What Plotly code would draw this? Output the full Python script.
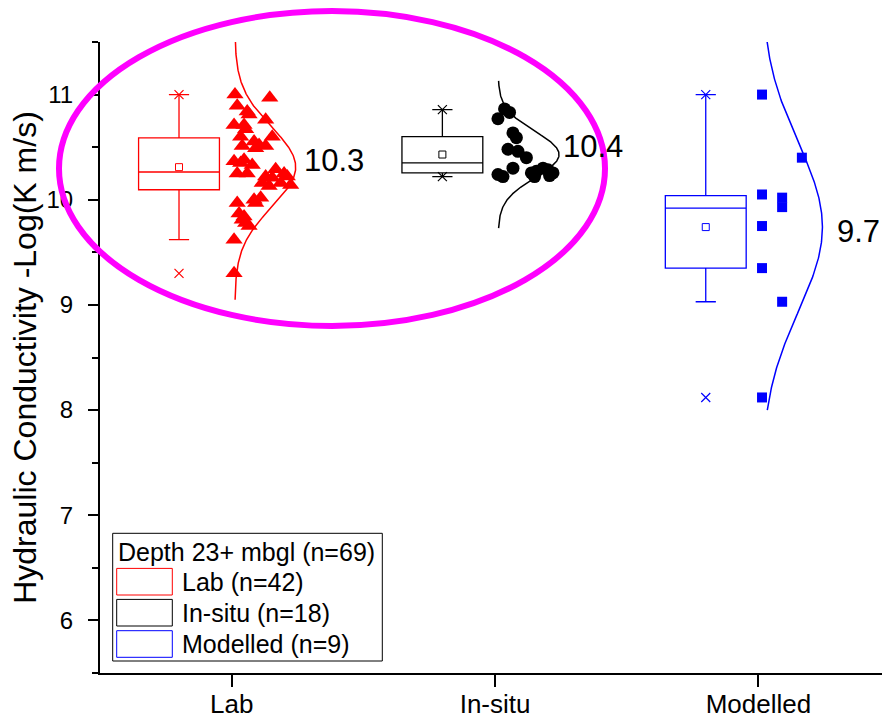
import numpy as np
import plotly.graph_objects as go

# ---------------- data ----------------
categories = ["Lab", "In-situ", "Modelled"]
cat_pos = [1, 2, 3]
colors = ["#FF0000", "#000000", "#0000FF"]
legend_labels = ["Lab (n=42)", "In-situ (n=18)", "Modelled (n=9)"]
legend_title = "Depth 23+ mbgl (n=69)"
mean_labels = ["10.3", "10.4", "9.7"]

lab_values = [11.0, 10.97, 10.895, 10.84, 10.76, 10.71, 10.71, 10.60, 10.60, 10.555,
              10.52, 10.51, 10.51, 10.365, 10.38, 10.33, 10.25, 10.25, 10.16, 10.29,
              10.25, 10.14, 10.13, 10.16, 10.22, 9.97, 10.0, 10.02, 9.87, 9.81,
              9.75, 9.62, 9.30, 10.21, 10.22, 10.49, 10.67, 10.81, 9.97, 9.84,
              9.78, 10.35]
lab_jitter = [0.0125, 0.1445, 0.021, 0.059, 0.129, 0.009, 0.047, 0.154, 0.034, 0.085,
              0.104, 0.129, 0.040, 0.009, 0.047, 0.078, 0.021, 0.059, 0.116, 0.167,
              0.199, 0.224, 0.142, 0.186, 0.211, 0.021, 0.085, 0.110, 0.028, 0.040,
              0.066, 0.009, 0.009, 0.154, 0.129, 0.091, 0.053, 0.066, 0.091, 0.047,
              0.053, 0.034]

insitu_values = [10.864, 10.83, 10.77, 10.635, 10.59, 10.48, 10.46, 10.40, 10.30,
                 10.24, 10.22, 10.255, 10.27, 10.30, 10.285, 10.255, 10.22, 10.23]
insitu_jitter = [0.036, 0.055, 0.011, 0.068, 0.081, 0.049, 0.087, 0.119, 0.068,
                 0.011, 0.030, 0.138, 0.157, 0.182, 0.201, 0.220, 0.150, 0.207]

model_values = [11.0, 10.05, 9.75, 9.35, 8.12, 10.02, 9.93, 9.03, 10.40]
model_jitter = [0.0137, 0.0137, 0.0137, 0.0137, 0.0137, 0.09, 0.09, 0.09, 0.165]

# box statistics
box_q1 = [10.095, 10.255, 9.35]
box_median = [10.264, 10.35, 9.92]
box_q3 = [10.588, 10.60, 10.04]
box_lower = [9.62, 10.22, 9.03]
box_upper = [11.0, 10.857, 11.0]
box_mean = [10.31, 10.43, 9.74]
box_min = [9.30, 10.22, 8.12]
box_max = [11.0, 10.857, 11.0]

# normal-curve parameters
curve_sd = [0.38, 0.22, 0.80]
curve_lo = [9.05, 9.73, 8.0]
curve_hi = [11.6, 11.13, 11.6]

# ---------------- layout constants ----------------
W, H = 882, 723
ML, MR, MT, MB = 100, 0, 42, 50
PW, PH = W - ML - MR, H - MT - MB
FONT = "Liberation Sans, Arial, sans-serif"

def px(xp):
    return (xp - ML) / PW

def py(yp):
    return (H - MB - yp) / PH

box_offset = -0.2
box_width = 0.307
curve_base = 0.012
curve_peak = 0.243
label_offsets = [0.2665, 0.2517, 0.2905]
label_shift = [7, 8, -4]

fig = go.Figure()

value_sets = [lab_values, insitu_values, model_values]
jitter_sets = [lab_jitter, insitu_jitter, model_jitter]
symbols = ["triangle-up", "circle", "square"]
msizes = [15, 13, 10]

for i in range(3):
    c = colors[i]
    xc = cat_pos[i] + box_offset
    fig.add_trace(go.Box(
        x=[xc], q1=[box_q1[i]], median=[box_median[i]], q3=[box_q3[i]],
        lowerfence=[box_lower[i]], upperfence=[box_upper[i]],
        width=box_width, whiskerwidth=0.25, boxpoints=False,
        fillcolor="rgba(0,0,0,0)", line=dict(color=c, width=1.3),
        showlegend=False, hoverinfo="skip"))
    # mean square
    fig.add_trace(go.Scatter(
        x=[xc], y=[box_mean[i]], mode="markers",
        marker=dict(symbol="square-open", size=7, color=c, line=dict(width=1)),
        showlegend=False, hoverinfo="skip"))
    # min / max crosses
    fig.add_trace(go.Scatter(
        x=[xc, xc], y=[box_min[i], box_max[i]], mode="markers",
        marker=dict(symbol="x-thin-open", size=9, color=c, line=dict(width=1.2, color=c)),
        showlegend=False, hoverinfo="skip", cliponaxis=False))
    # data points
    vals = value_sets[i]
    xs = [cat_pos[i] + j for j in jitter_sets[i]]
    fig.add_trace(go.Scatter(
        x=xs, y=vals, mode="markers",
        marker=dict(symbol=symbols[i], size=msizes[i], color=c, line=dict(width=0)),
        showlegend=False, hoverinfo="skip"))
    # normal curve
    mu = box_mean[i]
    yy = np.linspace(curve_lo[i], curve_hi[i], 300)
    amp = curve_peak - curve_base
    xx = cat_pos[i] + curve_base + amp * np.exp(-(yy - mu) ** 2 / (2 * curve_sd[i] ** 2))
    fig.add_trace(go.Scatter(
        x=xx, y=yy, mode="lines", line=dict(color=c, width=1.5),
        showlegend=False, hoverinfo="skip"))

annotations = []
for i in range(3):
    annotations.append(dict(
        x=cat_pos[i] + label_offsets[i], y=box_mean[i], xref="x", yref="y",
        text=mean_labels[i], showarrow=False, xanchor="left", yanchor="middle",
        yshift=label_shift[i], font=dict(family=FONT, size=31, color="black")))

# manual legend
shapes = []
shapes.append(dict(type="rect", xref="paper", yref="paper",
                   x0=px(112.7), x1=px(382.3), y0=py(661), y1=py(533.3),
                   line=dict(color="black", width=1), fillcolor="white", layer="above"))
annotations.append(dict(x=px(116), y=py(551.5), xref="paper", yref="paper",
                        text=legend_title, showarrow=False, xanchor="left", yanchor="middle",
                        font=dict(family=FONT, size=25, color="black")))
row_centers = [581.7, 612.7, 644.0]
for i in range(3):
    shapes.append(dict(type="rect", xref="paper", yref="paper",
                       x0=px(116.7), x1=px(172.3),
                       y0=py(row_centers[i] + 13.3), y1=py(row_centers[i] - 13.3),
                       line=dict(color=colors[i], width=1), layer="above"))
    annotations.append(dict(x=px(180), y=py(row_centers[i]), xref="paper", yref="paper",
                            text=legend_labels[i], showarrow=False, xanchor="left",
                            yanchor="middle",
                            font=dict(family=FONT, size=25, color="black")))

# magenta ellipse
shapes.append(dict(type="circle", xref="paper", yref="paper",
                   x0=px(59), x1=px(605), y0=py(326), y1=py(11),
                   line=dict(color="#FF00FF", width=6), layer="above"))

fig.update_layout(
    width=W, height=H,
    margin=dict(l=ML, r=MR, t=MT, b=MB, autoexpand=False),
    plot_bgcolor="white", paper_bgcolor="white",
    font=dict(family=FONT, color="black"),
    shapes=shapes, annotations=annotations, showlegend=False,
    xaxis=dict(range=[0.5, 3 + (882 - 758.6) / 263], tickvals=cat_pos, ticktext=categories,
               showgrid=False, zeroline=False, showline=True, linecolor="black", linewidth=2,
               ticks="outside", ticklen=12, tickwidth=2, tickcolor="black",
               ticklabelstandoff=-5,
               tickfont=dict(family=FONT, size=26, color="black")),
    yaxis=dict(range=[5.5, 11.5], tickvals=[6, 7, 8, 9, 10, 11],
               showgrid=False, zeroline=False, showline=True, linecolor="black", linewidth=2,
               ticks="outside", ticklen=10, tickwidth=2, tickcolor="black",
               ticklabelstandoff=10,
               minor=dict(tickvals=[5.5, 6.5, 7.5, 8.5, 9.5, 10.5, 11.5], ticks="outside",
                          ticklen=6, tickwidth=2, tickcolor="black"),
               tickfont=dict(family=FONT, size=24, color="black"),
               title=dict(text="Hydraulic Conductivity -Log(K m/s)", standoff=0,
                          font=dict(family=FONT, size=32, color="black"))),
)

fig.write_html("out.html", config={"displayModeBar": False},
               post_script="document.body.style.margin='0';document.body.style.overflow='hidden';")
